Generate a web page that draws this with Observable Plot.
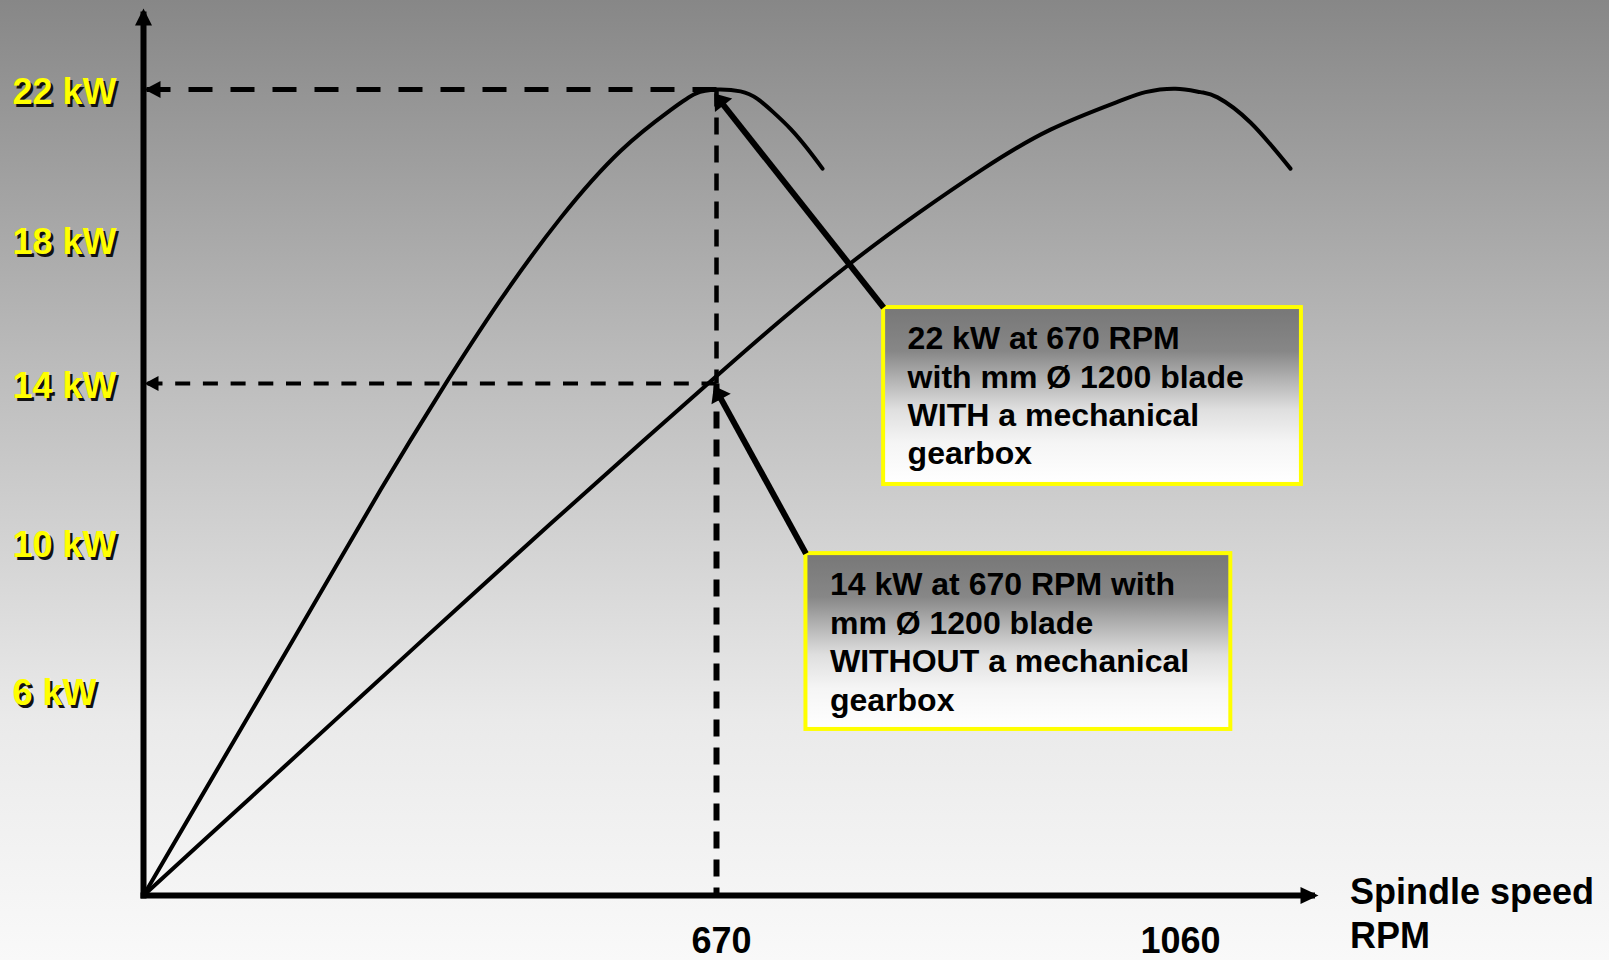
<!DOCTYPE html>
<html>
<head>
<meta charset="utf-8">
<script src="https://cdn.jsdelivr.net/npm/d3@7"></script>
<script src="https://cdn.jsdelivr.net/npm/@observablehq/plot@0.6"></script>
<style>
  html, body { margin: 0; padding: 0; }
  body {
    width: 1609px; height: 960px; overflow: hidden;
    background: linear-gradient(to bottom, #878787 0%, #bebebe 40%, #eaeaea 75%, #f9f9f9 100%);
  }
  #chart svg { display: block; }
</style>
</head>
<body>
<div id="chart"></div>
<script>
// ---------------- data ----------------
const yTicks = [6, 10, 14, 18, 22];
const yTickLabels = ["6 kW", "10 kW", "14 kW", "18 kW", "22 kW"];
const xTicks = [670, 1060];
const xTickLabels = ["670", "1060"];
const xAxisTitle = "Spindle speed\nRPM";

// power curve WITH mechanical gearbox (RPM, kW)
const gearRpm = [0, 66.6, 136.8, 207, 277.1, 347.3, 417.4, 487.6, 557.8, 616.2, 645.5, 670, 690.4, 704.8, 718.4, 732.9, 747.3, 760.1];
const gearKw  = [0, 2.85, 5.85, 8.64, 11.32, 13.79, 16.32, 18.57, 20.36, 21.45, 21.89, 22, 21.95, 21.75, 21.39, 20.95, 20.42, 19.89];

// power curve WITHOUT mechanical gearbox (RPM, kW)
const directRpm = [0, 74.8, 152, 230.4, 308.7, 370.7, 475.9, 583.5, 668.8, 724.4, 783.9, 840.8, 896.9, 953.8, 1010.7, 1034.5, 1060, 1081.2, 1095.7, 1123.7, 1157.7];
const directKw  = [0, 1.71, 3.48, 5.28, 6.99, 8.3, 10.47, 12.54, 14.18, 15.75, 17.34, 18.69, 19.89, 20.93, 21.67, 21.93, 22.02, 21.93, 21.79, 21.12, 19.89];

// reference operating points
const refRpm = [670, 670];
const refKw = [22, 14];

// annotation boxes (data units) and the points their arrows indicate
const noteTexts = [
  "22 kW at 670 RPM\nwith mm Ø 1200 blade\nWITH a mechanical\ngearbox",
  "14 kW at 670 RPM with\nmm Ø 1200 blade\nWITHOUT a mechanical\ngearbox"
];
const noteRpm1 = [812, 746];
const noteRpm2 = [1167, 1107];
const noteKwTop = [16.11, 9.7];
const noteKwBottom = [11.46, 4.86];
const pointRpm = [670.5, 669.5];
const pointKw = [21.8, 13.84];

const axisEndRpm = 1176;
const axisEndKw = 24;

// ---------------- tables ----------------
const gear = gearRpm.map((r, i) => ({rpm: r, kw: gearKw[i]}));
const direct = directRpm.map((r, i) => ({rpm: r, kw: directKw[i]}));
const notes = noteTexts.map((t, i) => ({
  text: t, x1: noteRpm1[i], x2: noteRpm2[i], yTop: noteKwTop[i], yBottom: noteKwBottom[i],
  px: pointRpm[i], py: pointKw[i]
}));
const hRefs = refRpm.map((r, i) => ({x1: r, x2: 0, y: refKw[i]}));

// filled triangular arrowhead marker
function tri(len, wid, over) {
  return (color) => {
    const ns = "http://www.w3.org/2000/svg";
    const m = document.createElementNS(ns, "marker");
    m.setAttribute("viewBox", `${over - len} ${-wid / 2} ${len} ${wid}`);
    m.setAttribute("markerUnits", "userSpaceOnUse");
    m.setAttribute("markerWidth", len);
    m.setAttribute("markerHeight", wid);
    m.setAttribute("refX", 0);
    m.setAttribute("refY", 0);
    m.setAttribute("orient", "auto");
    m.setAttribute("overflow", "visible");
    const p = document.createElementNS(ns, "path");
    p.setAttribute("d", `M${over},0L${over - len},${-wid / 2}L${over - len},${wid / 2}Z`);
    p.setAttribute("fill", color);
    p.setAttribute("stroke", "none");
    p.setAttribute("stroke-dasharray", "none");
    m.appendChild(p);
    return m;
  };
}

const font = "'Liberation Sans', Arial, Helvetica, sans-serif";

const chart = Plot.plot({
  width: 1609,
  height: 960,
  marginLeft: 12,
  marginRight: 0,
  marginTop: 0,
  marginBottom: 8,
  style: {background: "transparent", fontFamily: font, overflow: "visible"},
  x: {type: "linear", domain: [0, 670, 1060], range: [143, 716, 1175], axis: null},
  y: {type: "linear", domain: [0, 6, 10, 14, 18, 22], range: [895, 690, 542, 383, 239, 89], axis: null},
  marks: [
    // dashed reference lines
    Plot.link(hRefs.slice(0, 1), {x1: "x1", x2: "x2", y1: "y", y2: "y",
      stroke: "black", strokeWidth: 5, strokeDasharray: "24 18", markerEnd: tri(16, 17, -1)}),
    Plot.link(hRefs.slice(1, 2), {x1: "x1", x2: "x2", y1: "y", y2: "y",
      stroke: "black", strokeWidth: 4, strokeDasharray: "15 12.7", markerEnd: tri(14, 15, -1)}),
    Plot.link([0], {x1: () => refRpm[0], x2: () => refRpm[1], y1: () => refKw[0], y2: () => refKw[1],
      stroke: "black", strokeWidth: 4.5, strokeDasharray: "17 11"}),
    Plot.link([0], {x1: () => refRpm[1], x2: () => refRpm[1], y1: () => refKw[1], y2: () => 0,
      stroke: "black", strokeWidth: 6, strokeDasharray: "17 11"}),

    // power curves
    Plot.line(gear, {x: "rpm", y: "kw", curve: "natural", stroke: "black", strokeWidth: 4}),
    Plot.line(direct, {x: "rpm", y: "kw", curve: "natural", stroke: "black", strokeWidth: 4}),

    // axes with arrowheads
    Plot.link([0], {x1: () => 0, y1: () => 0, x2: () => 0, y2: () => axisEndKw,
      stroke: "black", strokeWidth: 6, strokeLinecap: "square", markerEnd: tri(17, 17, 6)}),
    Plot.link([0], {x1: () => 0, y1: () => 0, x2: () => axisEndRpm, y2: () => 0,
      stroke: "black", strokeWidth: 6, strokeLinecap: "square", markerEnd: tri(18, 17, 6.5)}),

    // annotation boxes
    Plot.rect(notes, {x1: "x1", x2: "x2", y1: "yTop", y2: "yBottom",
      fill: "url(#noteGrad)", stroke: "#ffff00", strokeWidth: 4}),
    Plot.link(notes, {x1: "x1", y1: "yTop", x2: "px", y2: "py",
      stroke: "black", strokeWidth: 6, markerEnd: tri(15, 22, 4.5)}),
    Plot.text(notes, {x: "x1", y: "yTop", text: "text", textAnchor: "start", lineAnchor: "top",
      lineHeight: 1.2, dx: 24, dy: 14.5, fontSize: 32, fontWeight: "bold", fill: "black"}),

    // y tick labels (yellow with dark shadow)
    Plot.text(yTicks, {y: d => d, text: (d, i) => yTickLabels[i], frameAnchor: "left", textAnchor: "start",
      dx: 2.5, dy: 5.5, fontSize: 36, fontWeight: "bold", fill: "#111"}),
    Plot.text(yTicks, {y: d => d, text: (d, i) => yTickLabels[i], frameAnchor: "left", textAnchor: "start",
      dy: 3, fontSize: 36, fontWeight: "bold", fill: "#ffff00"}),

    // x tick labels
    Plot.text(xTicks, {x: d => d, text: (d, i) => xTickLabels[i], frameAnchor: "bottom", lineAnchor: "bottom",
      dx: 5, fontSize: 36, fontWeight: "bold", fill: "black"}),

    // x axis title
    Plot.text([xAxisTitle], {x: () => axisEndRpm, y: () => 0, text: d => d, textAnchor: "start", lineAnchor: "top",
      lineHeight: 1.222, dx: 38, dy: -23, fontSize: 36, fontWeight: "bold", fill: "black"})
  ]
});

// gradient used by the annotation boxes
const ns = "http://www.w3.org/2000/svg";
const defs = document.createElementNS(ns, "defs");
const grad = document.createElementNS(ns, "linearGradient");
grad.setAttribute("id", "noteGrad");
grad.setAttribute("x1", "0"); grad.setAttribute("y1", "0");
grad.setAttribute("x2", "0"); grad.setAttribute("y2", "1");
[[0, "#777777"], [0.25, "#878787"], [0.4, "#b0b0b0"], [0.58, "#dfdfdf"], [0.77, "#f5f5f5"], [1, "#ffffff"]]
  .forEach(([o, c]) => {
    const s = document.createElementNS(ns, "stop");
    s.setAttribute("offset", o);
    s.setAttribute("stop-color", c);
    grad.appendChild(s);
  });
defs.appendChild(grad);
chart.insertBefore(defs, chart.firstChild);

document.getElementById("chart").appendChild(chart);
</script>
</body>
</html>
